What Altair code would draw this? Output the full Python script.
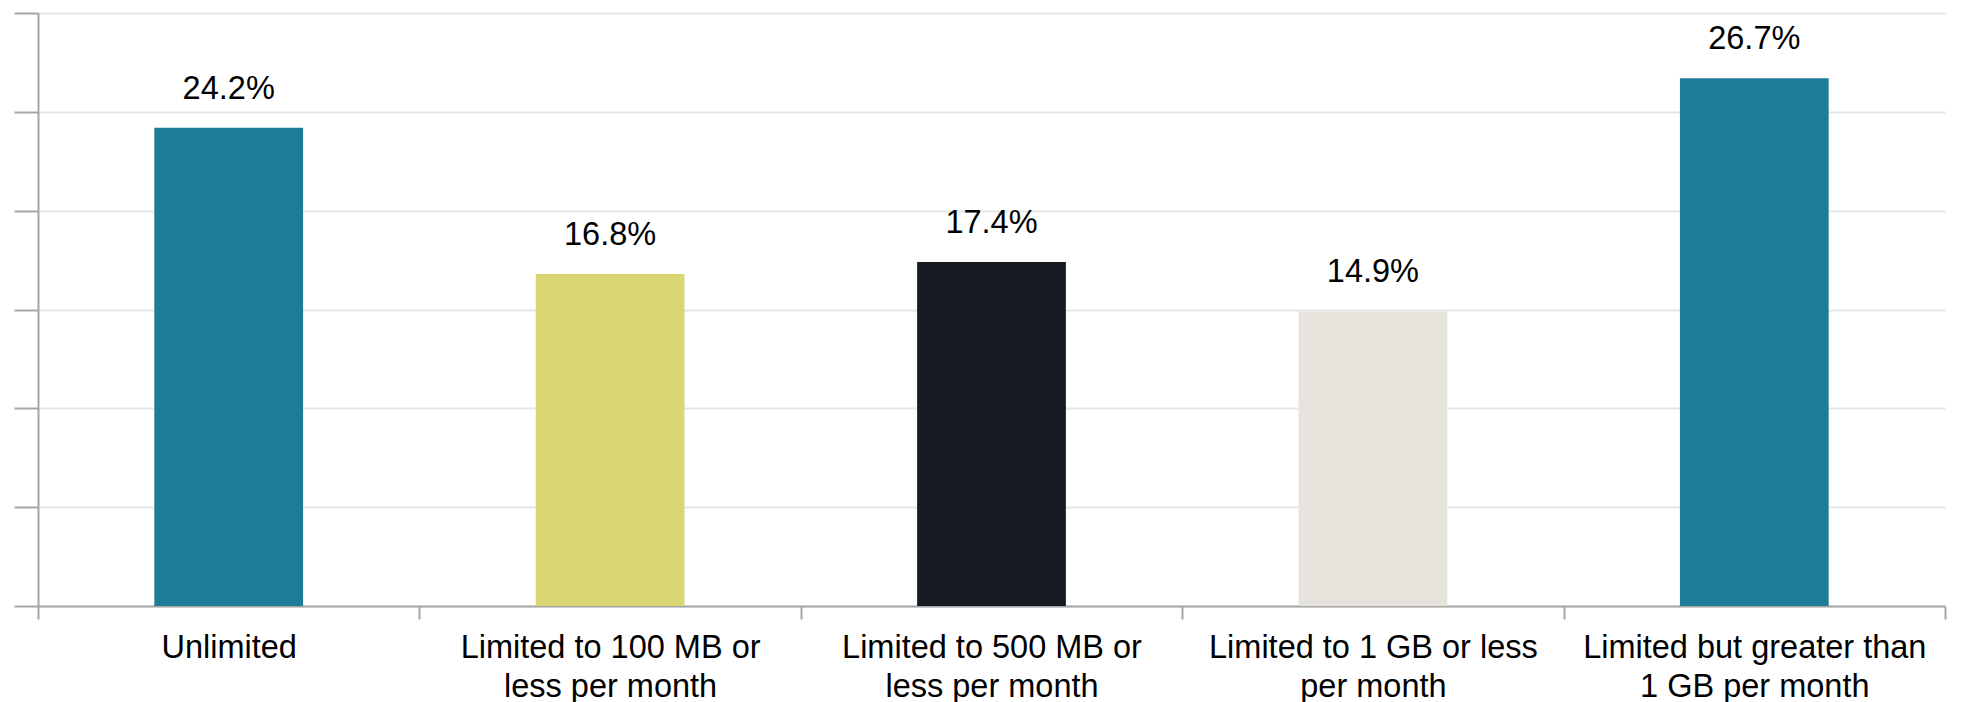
import altair as alt
import pandas as pd

categories = [
    "Unlimited",
    "Limited to 100 MB or\nless per month",
    "Limited to 500 MB or\nless per month",
    "Limited to 1 GB or less\nper month",
    "Limited but greater than\n1 GB per month",
]
shares = [24.2, 16.8, 17.4, 14.9, 26.7]
bar_colors = ["#1f7c99", "#d9d673", "#161a21", "#e6e3dc", "#1f7c99"]
y_ticks = [0, 5, 10, 15, 20, 25, 30]

df = pd.DataFrame({"plan": categories, "share": shares})
df["label"] = df["share"].map(lambda v: f"{v:.1f}%")

FONT = "Liberation Sans"
AXIS_GREY = "#a6a6a6"

x = alt.X(
    "plan:N",
    sort=categories,
    scale=alt.Scale(paddingInner=0, paddingOuter=0),
    axis=alt.Axis(
        title=None,
        labelAngle=0,
        labelExpr="split(datum.label, '\\n')",
        labelFont=FONT,
        labelFontSize=32.5,
        labelColor="#000000",
        labelLineHeight=39,
        labelLimit=1000,
        labelPadding=12,
        tickBand="extent",
        tickSize=13,
        tickColor=AXIS_GREY,
        tickWidth=2,
        domainColor=AXIS_GREY,
        domainWidth=2,
        grid=False,
    ),
)

y = alt.Y(
    "share:Q",
    scale=alt.Scale(domain=[0, 30], nice=False),
    axis=alt.Axis(
        title=None,
        values=y_ticks,
        labels=False,
        tickSize=24,
        tickColor=AXIS_GREY,
        tickWidth=2,
        domainColor=AXIS_GREY,
        domainWidth=2,
        grid=True,
        gridColor="#e6e6e6",
        gridWidth=2,
    ),
)

bars = alt.Chart(df).mark_bar(width=alt.RelativeBandSize(0.39)).encode(
    x=x,
    y=y,
    color=alt.Color(
        "plan:N",
        scale=alt.Scale(domain=categories, range=bar_colors),
        legend=None,
    ),
)

labels = alt.Chart(df).mark_text(
    font=FONT, fontSize=32.5, color="#000000", baseline="alphabetic", dy=-29
).encode(
    x=alt.X("plan:N", sort=categories),
    y="share:Q",
    text="label:N",
)

chart = (
    alt.layer(bars, labels)
    .properties(
        width=1907,
        height=593,
        autosize=alt.AutoSizeParams(type="none"),
        padding={"left": 38, "top": 13, "right": 21, "bottom": 96},
        background="#ffffff",
    )
    .configure_view(stroke=None)
)

chart.save("out.html", embed_options={"renderer": "svg", "actions": False})
